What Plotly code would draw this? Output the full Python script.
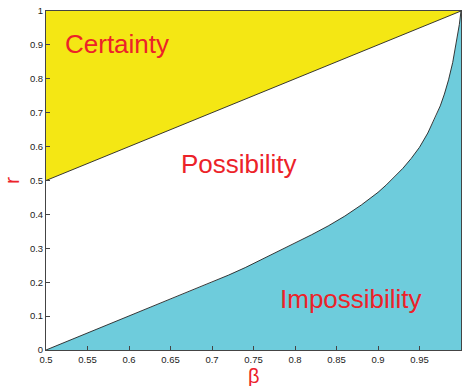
import plotly.graph_objects as go

# Region boundaries in the (beta, r) plane
upper_beta = [0.5, 1.0]
upper_r = [0.5, 1.0]

lower_beta = [0.5, 0.55, 0.6, 0.65, 0.7, 0.72, 0.74, 0.76, 0.78, 0.8, 0.82, 0.84, 0.86,
              0.88, 0.9, 0.91, 0.92, 0.93, 0.94, 0.95, 0.96, 0.97, 0.975, 0.98, 0.985,
              0.99, 0.995, 0.998, 1.0]
lower_r = [0.0, 0.05, 0.1, 0.15, 0.2, 0.221, 0.243, 0.267, 0.291, 0.315, 0.34, 0.366, 0.395,
           0.428, 0.465, 0.487, 0.51, 0.536, 0.565, 0.598, 0.64, 0.69, 0.72, 0.755, 0.797,
           0.848, 0.915, 0.96, 1.0]

x_ticks = [0.5, 0.55, 0.6, 0.65, 0.7, 0.75, 0.8, 0.85, 0.9, 0.95, 1.0]
x_tick_text = ["0.5", "0.55", "0.6", "0.65", "0.7", "0.75", "0.8", "0.85", "0.9", "0.95", "1"]
y_ticks = [0, 0.1, 0.2, 0.3, 0.4, 0.5, 0.6, 0.7, 0.8, 0.9, 1.0]
y_tick_text = ["0", "0.1", "0.2", "0.3", "0.4", "0.5", "0.6", "0.7", "0.8", "0.9", "1"]

region_labels = ["Certainty", "Possibility", "Impossibility"]
label_beta = [0.5855, 0.733, 0.8677]
label_r = [0.902, 0.55, 0.151]

YELLOW = "#F4E714"
CYAN = "#6ECCDC"
RED = "#EC2229"
FONT = "Liberation Sans, Arial, sans-serif"

fig = go.Figure()

# Certainty region: above the line r = beta
fig.add_trace(go.Scatter(
    x=upper_beta + [upper_beta[0]],
    y=upper_r + [1.0],
    fill="toself", fillcolor=YELLOW, mode="none", hoverinfo="skip",
))
# Impossibility region: below the lower curve
fig.add_trace(go.Scatter(
    x=lower_beta + [1.0, 0.5],
    y=lower_r + [0.0, 0.0],
    fill="toself", fillcolor=CYAN, mode="none", hoverinfo="skip",
))
# Boundary lines
fig.add_trace(go.Scatter(x=upper_beta, y=upper_r, mode="lines",
                         line=dict(color="#222222", width=0.9), hoverinfo="skip"))
fig.add_trace(go.Scatter(x=lower_beta, y=lower_r, mode="lines",
                         line=dict(color="#222222", width=0.9), hoverinfo="skip"))

for txt, bx, ry in zip(region_labels, label_beta, label_r):
    fig.add_annotation(x=bx, y=ry, text=txt, showarrow=False,
                       font=dict(family=FONT, size=26, color=RED),
                       xanchor="center", yanchor="middle")

# x-axis label placed just below the tick labels
fig.add_annotation(x=0.5, y=-0.041, xref="paper", yref="paper", text="β",
                   showarrow=False, xanchor="center", yanchor="top", borderpad=0,
                   font=dict(family=FONT, size=20, color=RED))

axis_common = dict(
    showline=True, mirror=True, linecolor="#444444", linewidth=1,
    ticks="inside", ticklen=4, tickcolor="#444444", tickwidth=1,
    showgrid=False, zeroline=False, automargin=False,
    tickfont=dict(family=FONT, size=9.5, color="#222222"),
)

fig.update_layout(
    width=462, height=386,
    margin=dict(l=46, r=1, t=11, b=36),
    paper_bgcolor="white", plot_bgcolor="white",
    showlegend=False,
    xaxis=dict(range=[0.5, 1.0], tickvals=x_ticks, ticktext=x_tick_text,
               ticklabelstandoff=1, **axis_common),
    yaxis=dict(range=[0, 1.0], tickvals=y_ticks, ticktext=y_tick_text,
               title=dict(text="r", font=dict(family=FONT, size=21, color=RED)),
               **axis_common),
)

fig.write_html("out.html")
